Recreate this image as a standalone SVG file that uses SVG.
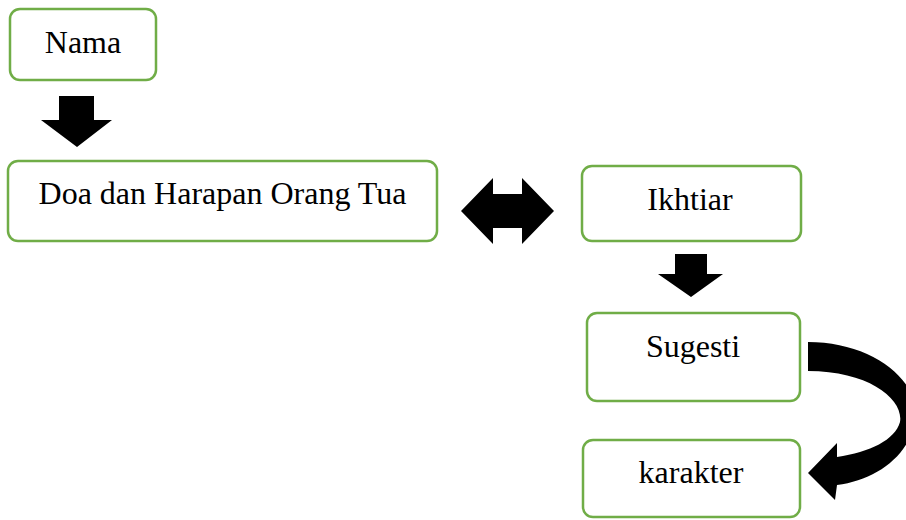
<svg xmlns="http://www.w3.org/2000/svg" width="906" height="520" viewBox="0 0 906 520">
<style>
.box{fill:#fff;stroke:#70AD47;stroke-width:2.5}
.lbl{font-family:"Liberation Serif","Times New Roman",serif;font-size:32px;fill:#000;text-anchor:middle}
.arr{fill:#000}
</style>
<rect width="906" height="520" fill="#fff"/>
<g id="nama"><rect class="box" x="10" y="9" width="146" height="71" rx="10"/><text class="lbl" x="83" y="53">Nama</text></g>
<g id="doa"><rect class="box" x="8" y="161" width="429" height="80" rx="10"/><text class="lbl" x="222.5" y="204">Doa dan Harapan Orang Tua</text></g>
<g id="ikhtiar"><rect class="box" x="582" y="166" width="219" height="75" rx="10"/><text class="lbl" x="690" y="210">Ikhtiar</text></g>
<g id="sugesti"><rect class="box" x="587" y="313" width="213" height="88" rx="10"/><text class="lbl" x="693" y="357">Sugesti</text></g>
<g id="karakter"><rect class="box" x="583" y="440" width="217" height="77" rx="10"/><text class="lbl" x="691" y="483">karakter</text></g>
<g id="connectors">
<polygon class="arr" points="59,96 94,96 94,120 112,120 77,147 41,120 59,120"/>
<polygon class="arr" points="461,211 493,178 493,194 522,194 522,178 554,211 522,244 522,228 493,228 493,244"/>
<polygon class="arr" points="675,254 707,254 707,274 723,274 691,297 658,274 675,274"/>
<path class="arr" d="M808,342 C872,342 922,380 915,422 C908,457 875,480 837,485 L835,500 L808,473 L837,443 L837,457 C870,452 895,440 900,422 C904,400 870,371 808,371 Z"/>
</g>
</svg>
